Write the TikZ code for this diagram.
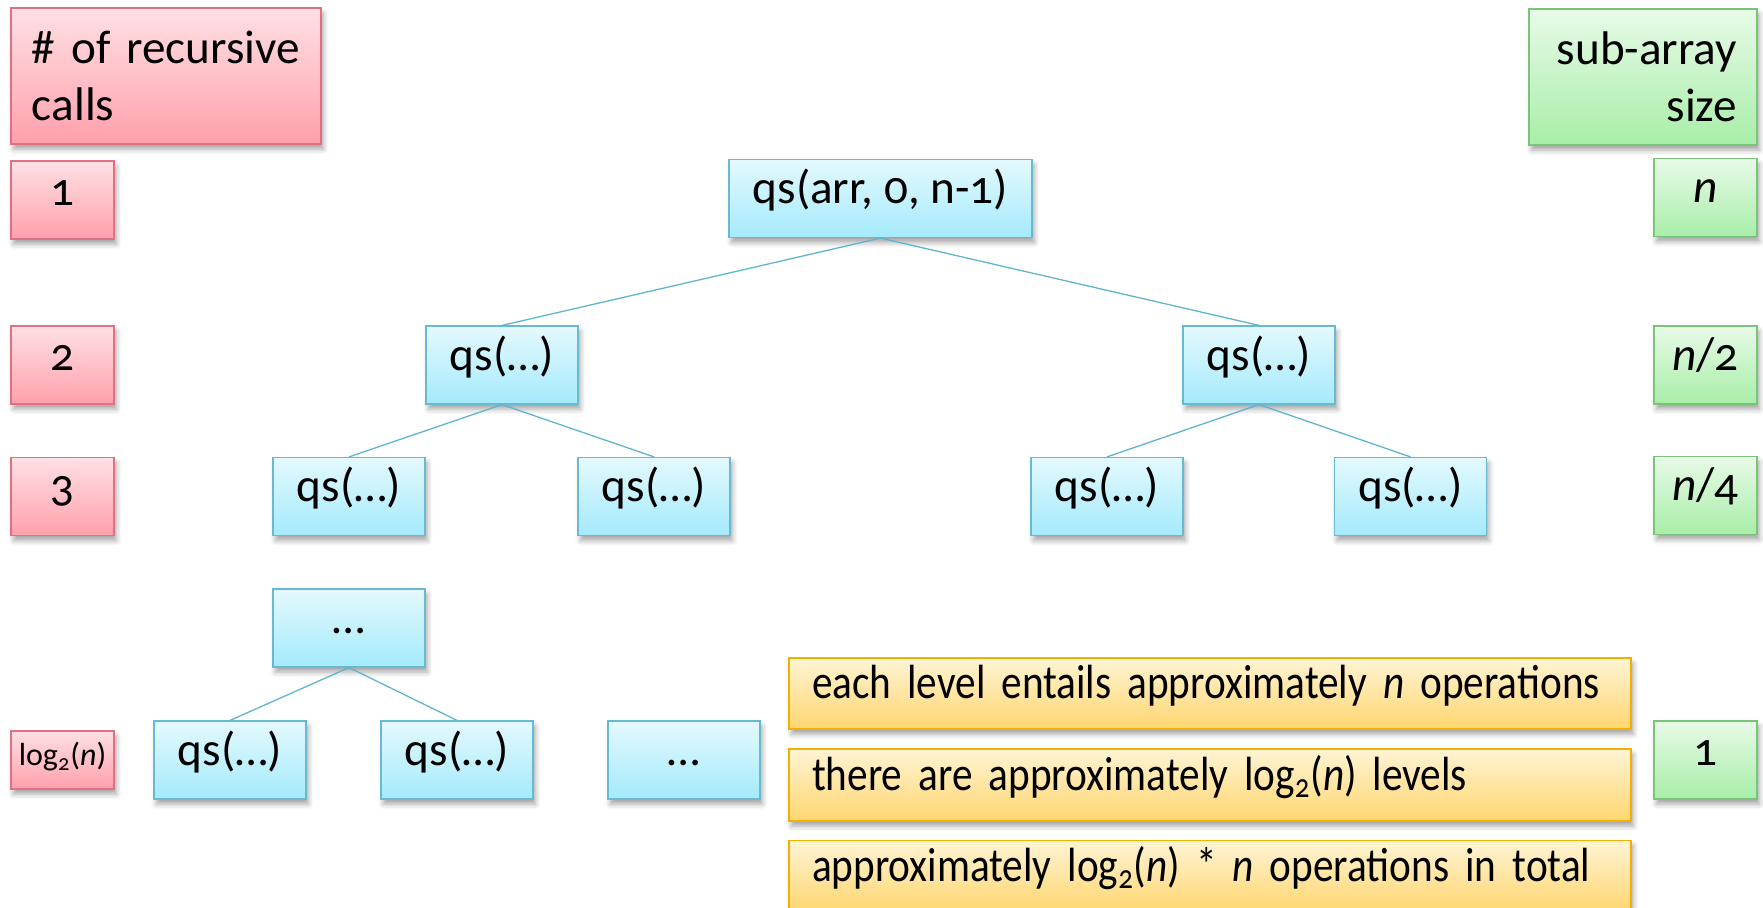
\documentclass[tikz,border=0pt]{standalone}
\usepackage{fontspec}
\setmainfont{Carlito}[Numbers=OldStyle]
\usetikzlibrary{shadows.blur}

\definecolor{redtop}{RGB}{255,224,228}
\definecolor{redbot}{RGB}{255,160,172}
\definecolor{redline}{RGB}{226,112,128}
\definecolor{bluetop}{RGB}{228,249,254}
\definecolor{bluebot}{RGB}{164,234,252}
\definecolor{blueline}{RGB}{104,186,210}
\definecolor{greentop}{RGB}{232,250,232}
\definecolor{greenbot}{RGB}{168,238,168}
\definecolor{greenline}{RGB}{122,196,122}
\definecolor{yellowtop}{RGB}{255,244,212}
\definecolor{yellowbot}{RGB}{255,214,112}
\definecolor{yellowline}{RGB}{244,176,0}
\definecolor{edgeline}{RGB}{96,180,206}

\begin{document}
\begin{tikzpicture}[
  x=.5pt,y=-.5pt,
  box/.style={draw,line width=.6pt,inner sep=0pt,font=\fontsize{23.6}{28.5}\selectfont,
    blur shadow={shadow xshift=1.2pt,shadow yshift=-2.6pt,shadow blur radius=2.5pt,shadow opacity=35}},
  cell/.style={box,text height=.75em,text depth=.2em,minimum height=39pt},
  calls/.style={cell,draw=redline,top color=redtop,bottom color=redbot,minimum width=51.5pt},
  qs/.style={cell,draw=blueline,top color=bluetop,bottom color=bluebot,minimum width=76pt},
  size/.style={cell,draw=greenline,top color=greentop,bottom color=greenbot,minimum width=51.5pt},
  note/.style={cell,draw=yellowline,top color=yellowtop,bottom color=yellowbot,minimum width=421pt,
    minimum height=35.5pt,inner xsep=11.5pt,text width=398pt,align=left,
    font=\fontsize{24}{28}\selectfont\addfontfeature{FakeStretch=0.86}},
  edge/.style={draw=edgeline,line width=.65pt}
]
\useasboundingbox (0,0) rectangle (1763,908);

% column headers
\node[box,draw=redline,top color=redtop,bottom color=redbot,minimum width=155pt,minimum height=68pt,
  inner xsep=10.5pt,text width=134pt,align=left] (callshead) at (166,76) {\# of recursive\\calls};
\node[box,draw=greenline,top color=greentop,bottom color=greenbot,minimum width=114pt,minimum height=68pt,
  inner xsep=10pt,text width=94pt,align=right] (sizehead) at (1643,77) {sub-array\\size};

% recursion depth
\node[calls] (c1) at (62.5,200) {1};
\node[calls] (c2) at (62.5,365) {2};
\node[calls] (c3) at (62.5,496.5) {3};
\node[calls,minimum height=29pt,font=\fontsize{16}{19}\selectfont] (clog) at (62.5,760) {log\textsubscript{2}(\textit{n})};

% call tree
\node[qs,minimum width=151.5pt] (root) at (880.5,198.5) {qs(arr, 0, n-1)};
\node[qs] (l) at (502,365) {qs(…)};
\node[qs] (r) at (1259,365) {qs(…)};
\node[qs] (ll) at (349,496.5) {qs(…)};
\node[qs] (lr) at (654,496.5) {qs(…)};
\node[qs] (rl) at (1107,496.5) {qs(…)};
\node[qs] (rr) at (1410.5,496.5) {qs(…)};
\node[qs] (mid) at (349,628) {…};
\node[qs] (ml) at (230,760) {qs(…)};
\node[qs] (mr) at (457,760) {qs(…)};
\node[qs] (rest) at (684,760) {…};

\draw[edge] (root.south) -- (l.north);
\draw[edge] (root.south) -- (r.north);
\draw[edge] (l.south) -- (ll.north);
\draw[edge] (l.south) -- (lr.north);
\draw[edge] (r.south) -- (rl.north);
\draw[edge] (r.south) -- (rr.north);
\draw[edge] (mid.south) -- (ml.north);
\draw[edge] (mid.south) -- (mr.north);

% sub-array sizes
\node[size] (s1) at (1705.5,197.5) {\textit{n}};
\node[size] (s2) at (1705.5,365) {\textit{n}/2};
\node[size] (s3) at (1705.5,495.5) {\textit{n}/4};
\node[size] (s4) at (1705.5,760) {1};

% cost summary
\node[note] (n1) at (1210,693.5) {each level entails approximately \textit{n} operations};
\node[note,minimum height=36pt] (n2) at (1210,785) {there are approximately log\textsubscript{2}(\textit{n}) levels};
\node[note] (n3) at (1210,876) {approximately log\textsubscript{2}(\textit{n}) * \textit{n} operations in total};
\end{tikzpicture}
\end{document}
